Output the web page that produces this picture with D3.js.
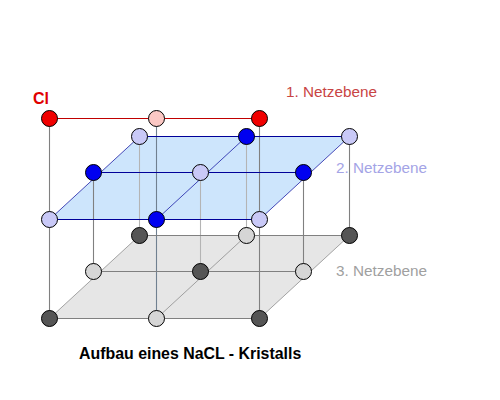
<!DOCTYPE html>
<html>
<head>
<meta charset="utf-8">
<style>
  html, body { margin: 0; padding: 0; background: #fff; }
  svg { display: block; }
  text { font-family: "Liberation Sans", Arial, sans-serif; }
</style>
</head>
<body>
<div id="chart"></div>
<script src="https://d3js.org/d3.v7.min.js"></script>
<script>
// lattice indices
const layers = [1, 2, 3]
const columns = [0, 1, 2]
const depths = [0, 1, 2]

// 1 = dark ion, 0 = light ion
const layer1Ions = [[1, 0, 1]]
const layer2Ions = [[0, 1, 0], [1, 0, 1], [0, 1, 0]]
const layer3Ions = [[1, 0, 1], [0, 1, 0], [1, 0, 1]]

const planeLabels = ['1. Netzebene', '2. Netzebene', '3. Netzebene']
const title = 'Aufbau eines NaCL - Kristalls'
const ionName = 'Cl'

const width = 500
const height = 400

const svg = d3.select('#chart')
  .append('svg')
    .attr('width', width)
    .attr('height', height)

// the picture is not perfectly regular so each scale gets its own stops
const xCol = d3.scaleOrdinal().domain(columns).range([49.5, 156.5, 259.5])
const xDepth = d3.scaleOrdinal().domain(depths).range([0, 44, 90])
const yDepth = d3.scaleOrdinal().domain(depths).range([0, -47, -83])
const yLayer = d3.scaleOrdinal().domain(layers).range([118.5, 219.5, 318.5])

const px = (c, d) => xCol(c) + xDepth(d)
const py = (l, d) => yLayer(l) + yDepth(d)

const color = d3.scaleOrdinal().domain(layers).range(['#c00000', '#000099', '#808080'])
const planeFill = d3.scaleOrdinal().domain(layers).range(['none', '#cde5fc', '#e6e6e6'])
const ionFill = {
  1: ['#fbc8c4', '#f00000'],
  2: ['#c9c9f7', '#0000f0'],
  3: ['#d6d6d6', '#555555']
}
const labelColor = d3.scaleOrdinal().domain(layers).range(['#c84444', '#a4a4e6', '#a0a0a0'])
const labelX = d3.scaleOrdinal().domain(layers).range([286, 336, 336])
const labelY = d3.scaleOrdinal().domain(layers).range([97, 173, 276])

const ions = { 1: layer1Ions, 2: layer2Ions, 3: layer3Ions }
const last = columns[columns.length - 1]

function drawFill(l) {
  svg.append('polygon')
    .attr('fill', planeFill(l))
    .attr('points', [[0, 0], [last, 0], [last, last], [0, last]]
      .map(([c, d]) => [px(c, d), py(l, d)].join(',')).join(' '))
}

function drawLine(x1, y1, x2, y2, stroke, w) {
  svg.append('line')
    .attr('x1', x1).attr('y1', y1).attr('x2', x2).attr('y2', y2)
    .attr('stroke', stroke)
    .attr('stroke-width', w)
}

function drawGrid(l) {
  depths.forEach(d => drawLine(px(0, d), py(l, d), px(last, d), py(l, d), color(l), 1.1))
  columns.forEach(c => drawLine(px(c, 0), py(l, 0), px(c, last), py(l, last), color(l), 0.7))
}

function drawPost(from, depth, col, stroke) {
  drawLine(px(col, depth), py(from, depth), px(col, depth), py(3, depth), stroke, 1.1)
}

function drawIons(l) {
  ions[l].forEach((row, d) => {
    row.forEach((kind, c) => {
      svg.append('circle')
        .attr('cx', px(c, d))
        .attr('cy', py(l, d))
        .attr('r', 8)
        .attr('fill', ionFill[l][kind])
        .attr('stroke', '#000')
        .attr('stroke-width', 1)
    })
  })
}

// fills first, then posts, then the grid lines and the ions on top
drawFill(3)
drawFill(2)

columns.forEach(c => drawPost(2, 2, c, c == 2 ? '#808080' : '#b4b4b4'))
columns.forEach(c => drawPost(2, 1, c, c == 1 ? '#b4b4b4' : '#808080'))
columns.forEach(c => drawPost(1, 0, c, c == 1 ? '#708090' : '#808080'))

drawGrid(3)
drawGrid(2)
// top plane is only the front row
drawLine(px(0, 0), py(1, 0), px(last, 0), py(1, 0), color(1), 1.1)

drawIons(3)
drawIons(2)
drawIons(1)

svg.selectAll('text.plane')
  .data(layers)
  .enter()
  .append('text')
    .attr('class', 'plane')
    .attr('x', d => labelX(d))
    .attr('y', d => labelY(d))
    .attr('fill', d => labelColor(d))
    .style('font-size', '15.3px')
    .text(d => planeLabels[d - 1])

svg.append('text')
  .attr('x', 33)
  .attr('y', 103.5)
  .attr('fill', '#e00000')
  .style('font-size', '16px')
  .style('font-weight', 'bold')
  .text(ionName)

svg.append('text')
  .attr('x', 79)
  .attr('y', 359)
  .attr('fill', '#000')
  .style('font-size', '15.9px')
  .style('font-weight', 'bold')
  .text(title)
</script>
</body>
</html>
